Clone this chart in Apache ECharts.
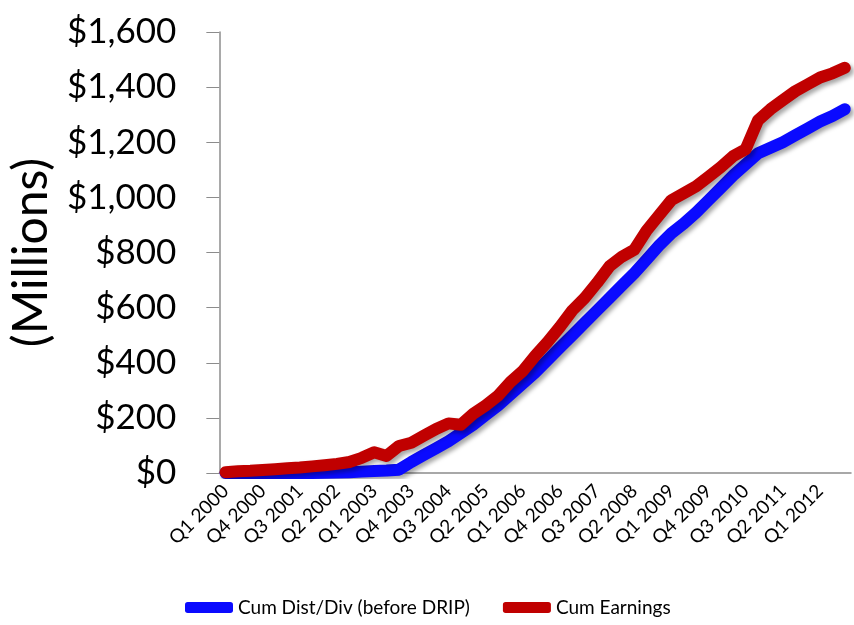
<!DOCTYPE html>
<html>
<head>
<meta charset="utf-8">
<title>Cumulative distributions vs earnings</title>
<script src="https://cdn.jsdelivr.net/npm/echarts@6/dist/echarts.min.js"></script>
<style>
  html, body { margin: 0; padding: 0; background: #fff; }
  #chart { width: 854px; height: 625px; }
</style>
</head>
<body>
<div id="chart"></div>
<script>
// quarters Q1 2000 .. Q3 2012
var quarters = [];
for (var y = 2000; y <= 2012; y++) {
  for (var q = 1; q <= 4; q++) {
    if (y === 2012 && q === 4) break;
    quarters.push("Q" + q + " " + y);
  }
}

// values in $ millions
var cumDist = [0, 0, 0, 0, 0, 0, 0, 0, 1, 2,
  3, 5, 7, 9, 12, 40, 65, 90, 115, 145,
  175, 210, 245, 285, 325, 365, 410, 455, 500, 545,
  590, 635, 680, 725, 775, 825, 870, 905, 945, 990,
  1035, 1080, 1120, 1160, 1180, 1200, 1225, 1250, 1275, 1295,
  1320];

var cumEarnings = [3, 6, 8, 11, 14, 17, 20, 24, 28, 33,
  40, 55, 75, 62, 98, 110, 135, 160, 180, 175,
  215, 245, 280, 330, 370, 425, 475, 530, 590, 635,
  690, 750, 785, 810, 880, 935, 990, 1015, 1040, 1075,
  1110, 1150, 1175, 1280, 1320, 1353, 1385, 1410, 1435, 1450,
  1470];

var yTicks = [0, 200, 400, 600, 800, 1000, 1200, 1400, 1600];

var chart = echarts.init(document.getElementById("chart"));

function lineStyle(color) {
  return {
    color: color,
    width: 12,
    cap: "round",
    join: "round",
    shadowColor: "rgba(0,0,0,0.35)",
    shadowBlur: 4,
    shadowOffsetX: 3,
    shadowOffsetY: 3
  };
}

chart.setOption({
  animation: false,
  backgroundColor: "#fff",
  grid: {
    left: 218,
    right: 3,
    top: 32,
    bottom: 152
  },
  legend: {
    bottom: 3,
    left: 180,
    itemWidth: 48,
    itemHeight: 11,
    itemGap: 33,
    icon: "roundRect",
    textStyle: {
      fontFamily: "Lato",
      fontSize: 19,
      color: "#000"
    },
    data: ["Cum Dist/Div (before DRIP)", "Cum Earnings"]
  },
  xAxis: {
    type: "category",
    data: quarters,
    boundaryGap: true,
    axisLine: { lineStyle: { color: "#8c8c8c", width: 1.5 } },
    axisTick: {
      interval: 0,
      length: 6,
      lineStyle: { color: "#8c8c8c" }
    },
    axisLabel: {
      interval: 2,
      rotate: 45,
      fontFamily: "Lato",
      fontSize: 19,
      color: "#000",
      margin: 15
    },
    splitLine: { show: false }
  },
  yAxis: {
    type: "value",
    min: yTicks[0],
    max: yTicks[yTicks.length - 1],
    interval: 200,
    name: "(Millions)",
    nameLocation: "middle",
    nameGap: 158,
    nameTextStyle: {
      fontFamily: "Lato",
      fontSize: 48,
      color: "#000"
    },
    axisLine: { show: true, lineStyle: { color: "#8c8c8c", width: 1.5 } },
    axisTick: {
      show: true,
      length: 13,
      lineStyle: { color: "#8c8c8c" }
    },
    axisLabel: {
      fontFamily: "Lato",
      fontSize: 35,
      color: "#000",
      margin: 43,
      formatter: function (v) {
        return "$" + v.toLocaleString("en-US");
      }
    },
    splitLine: { show: false }
  },
  series: [
    {
      name: "Cum Dist/Div (before DRIP)",
      type: "line",
      data: cumDist,
      symbol: "none",
      color: "#0a0aff",
      lineStyle: lineStyle("#0a0aff")
    },
    {
      name: "Cum Earnings",
      type: "line",
      data: cumEarnings,
      symbol: "none",
      color: "#c00000",
      lineStyle: lineStyle("#c00000")
    }
  ]
});
</script>
</body>
</html>
